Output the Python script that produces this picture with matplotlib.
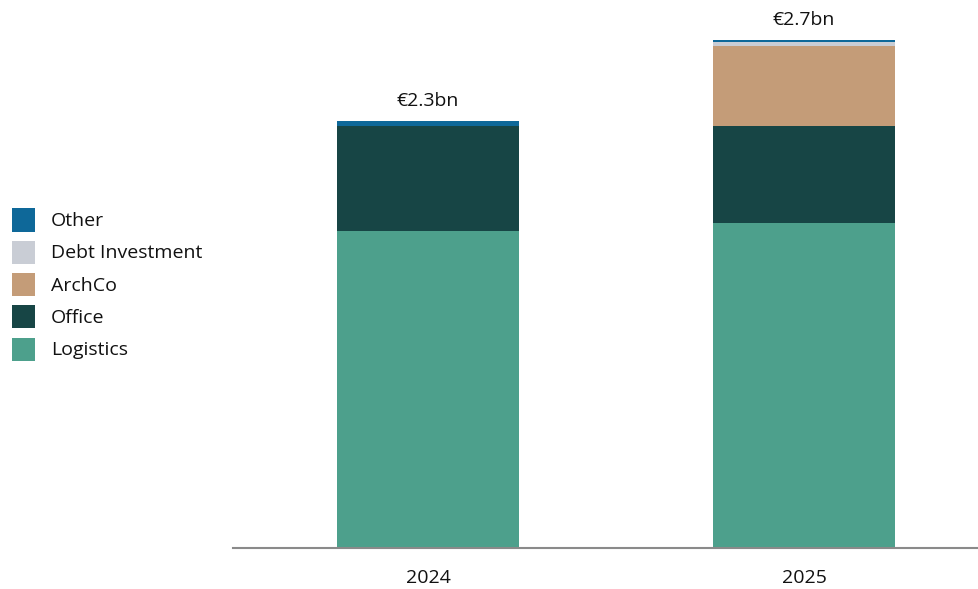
import matplotlib
matplotlib.use("Agg")
import matplotlib.pyplot as plt
from matplotlib.patches import Rectangle

years = ["2024", "2025"]
segments = ["Logistics", "Office", "ArchCo", "Debt Investment", "Other"]
logistics = [1.71, 1.753]
office = [0.572, 0.525]
archco = [0.0, 0.434]
debt = [0.0, 0.02]
other = [0.022, 0.013]
totals_labels = ["€2.3bn", "€2.7bn"]
colors = {"Logistics": "#4DA08C", "Office": "#174545", "ArchCo": "#C49C78",
          "Debt Investment": "#C9CDD5", "Other": "#0E6899"}

series = {"Logistics": logistics, "Office": office, "ArchCo": archco,
          "Debt Investment": debt, "Other": other}

plt.rcParams['font.family'] = ['Open Sans', 'DejaVu Sans']
W, H = 979, 589
fig = plt.figure(figsize=(W/100, H/100), dpi=100)
ax = fig.add_axes([233/W, (H-548)/H, (W-233)/W, 548/H])

x = list(range(len(years)))
bottom = [0.0]*len(years)
for s in segments:
    vals = series[s]
    ax.bar(x, vals, width=0.484, bottom=bottom, color=colors[s], linewidth=0)
    bottom = [b+v for b, v in zip(bottom, vals)]

for xi, tot, lab in zip(x, bottom, totals_labels):
    ax.text(xi, tot + 0.06, lab, ha='center', va='bottom', fontsize=14, color='#111111')

ax.set_xlim(-0.519, 1.465)
ax.set_ylim(0, 2.96)
ax.set_xticks(x)
ax.set_xticklabels(years, fontsize=14, color='#111111')
ax.tick_params(axis='x', length=0, pad=15)
ax.set_yticks([])
for sp in ['top', 'right', 'left']:
    ax.spines[sp].set_visible(False)
ax.spines['bottom'].set_color('#8a8a8a')
ax.spines['bottom'].set_linewidth(1.5)

# legend
leg_order = ["Other", "Debt Investment", "ArchCo", "Office", "Logistics"]
for i, s in enumerate(leg_order):
    yc = 220 + i*32.3
    fig.add_artist(Rectangle((12/W, (H-yc-11.5)/H), 23/W, 23/H,
                             transform=fig.transFigure, color=colors[s], linewidth=0))
    fig.text(51/W, (H-yc-1)/H, s, ha='left', va='center', fontsize=14, color='#111111')

fig.savefig("out.png", dpi=100)
